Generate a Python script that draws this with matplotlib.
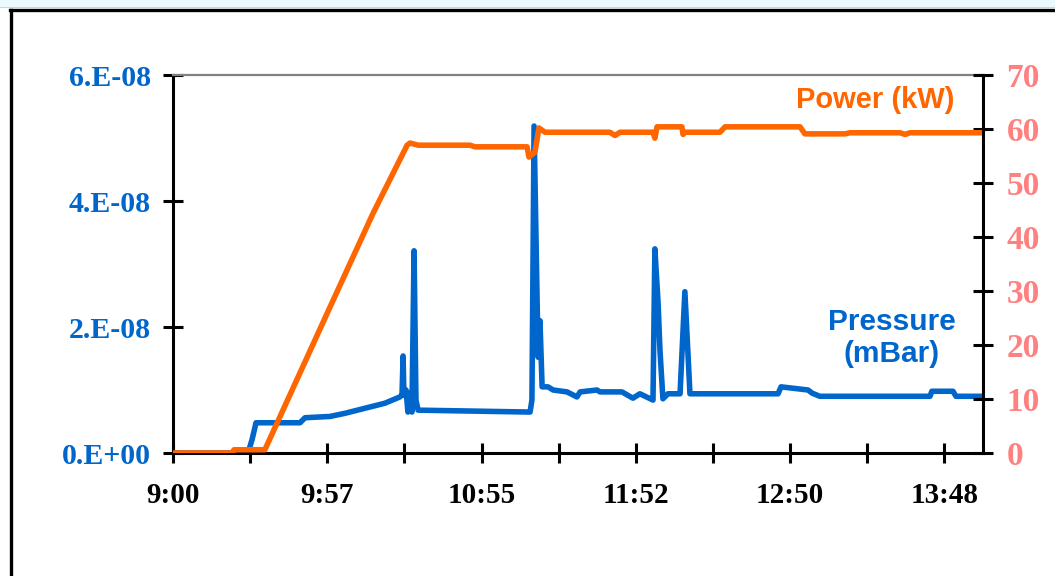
import matplotlib
matplotlib.use("Agg")
import matplotlib.pyplot as plt
from matplotlib.lines import Line2D
from matplotlib.patches import Rectangle

# minutes after 9:00
power_t = [0, 22.0, 22.8, 34.3, 58.6, 74.7, 87.4, 88.5, 91.5, 110.9, 112.7, 132.2, 132.9,
           135.1, 135.9, 136.6, 138.9, 163.1, 165.0, 166.9, 179.2, 179.9, 180.7, 190.0,
           190.4, 191.1, 204.2, 206.1, 234.1, 235.9, 250.9, 252.7, 271.4, 273.3, 275.1, 302.4]
power_kw = [0, 0, 0.6, 0.6, 27.0, 44.4, 57.0, 57.4, 57.0, 57.0, 56.7, 56.7, 54.8,
            55.7, 58.0, 60.2, 59.4, 59.4, 58.8, 59.4, 59.4, 58.3, 60.4, 60.4,
            59.0, 59.4, 59.4, 60.4, 60.4, 59.1, 59.1, 59.3, 59.3, 59.0, 59.3, 59.3]

press_t = [0, 28.0, 29.5, 31.0, 47.4, 49.3, 58.6, 64.2, 73.5, 79.1, 84.7, 85.5, 85.9, 86.2,
           87.0, 87.7, 88.5, 89.2, 90.0, 90.7, 91.5, 133.3, 134.0, 134.8, 136.3, 137.0,
           137.8, 140.0, 141.9, 147.1, 150.8, 152.0, 158.3, 159.4, 167.6, 171.7, 174.3,
           179.2, 179.9, 181.1, 181.8, 182.9, 184.8, 189.3, 191.1, 193.0, 225.9, 227.0,
           237.1, 238.6, 241.5, 282.6, 283.3, 291.2, 292.3, 302.4]
press_e8 = [0, 0, 0.21, 0.48, 0.48, 0.56, 0.58, 0.63, 0.73, 0.79, 0.89, 0.92, 1.54, 0.92,
            1.0, 0.65, 0.95, 0.65, 3.21, 0.84, 0.68, 0.65, 0.84, 5.19, 1.52, 2.10,
            1.05, 1.05, 1.0, 0.97, 0.89, 0.97, 1.0, 0.97, 0.97, 0.87, 0.94,
            0.84, 3.24, 2.38, 1.63, 0.86, 0.94, 0.94, 2.56, 0.94, 0.94, 1.05,
            1.0, 0.95, 0.90, 0.90, 0.98, 0.98, 0.90, 0.90]

x_ticks = [0, 57.6, 115.2, 172.8, 230.4, 288.0]
x_labels = ["9:00", "9:57", "10:55", "11:52", "12:50", "13:48"]
x_minor = [28.8, 86.4, 144.0, 201.6, 259.2]
left_ticks = [0, 2e-8, 4e-8, 6e-8]
left_labels = ["0.E+00", "2.E-08", "4.E-08", "6.E-08"]
right_ticks = [0, 10, 20, 30, 40, 50, 60, 70]

blue = "#0066CC"
orange = "#FF6600"
pink = "#FF8080"

fig = plt.figure(figsize=(10.55, 5.76), dpi=100)
W, H = 1055, 576

# frame round the chart
fig.add_artist(Rectangle((0, 1 - 7 / H), 1, 7 / H, transform=fig.transFigure,
                         facecolor="#EAFAFC", edgecolor="none"))
fig.add_artist(Line2D([0, 1], [1 - 7 / H] * 2, transform=fig.transFigure, color="#C8D8DA", lw=0.8))
fig.add_artist(Line2D([10 / W, 1], [1 - 10 / H] * 2, transform=fig.transFigure, color="black", lw=2.4))
fig.add_artist(Line2D([11 / W] * 2, [0, 1 - 10 / H], transform=fig.transFigure, color="black", lw=2.4))

ax = fig.add_axes([173 / W, 1 - 453 / H, 810 / W, 378 / H])
ax2 = ax.twinx()

ax.plot(press_t, [p * 1e-8 for p in press_e8], color=blue, lw=4,
        solid_joinstyle="round", solid_capstyle="round")
ax2.plot(power_t, power_kw, color=orange, lw=4, solid_joinstyle="round", solid_capstyle="round")

ax.set_xlim(0, 302.4)
ax.set_ylim(0, 6e-8)
ax2.set_ylim(0, 70)

serif = "Liberation Serif"
ax.set_xticks(x_ticks)
ax.set_xticklabels(x_labels, fontfamily=serif, fontweight="bold", fontsize=21)
ax.set_xticks(x_minor, minor=True)
ax.set_yticks(left_ticks)
ax.set_yticklabels(left_labels, fontfamily=serif, fontweight="bold", fontsize=21.5, color=blue)
ax2.set_yticks(right_ticks)
ax2.set_yticklabels([str(v) for v in right_ticks], fontfamily=serif, fontweight="bold",
                    fontsize=24, color=pink)

ax.tick_params(axis="x", which="both", direction="inout", length=14, width=2.2, pad=14)
ax.tick_params(axis="y", direction="inout", length=14, width=2.2, pad=9)
ax2.tick_params(axis="y", direction="inout", length=14, width=2.2, pad=10)

for s in ["left", "bottom"]:
    ax.spines[s].set_linewidth(2.2)
ax.spines["right"].set_visible(False)
ax.spines["top"].set_color("#808080")
ax.spines["top"].set_linewidth(1.6)
for s in ["left", "bottom", "top"]:
    ax2.spines[s].set_visible(False)
ax2.spines["right"].set_linewidth(2.2)

ax2.text(955 / W, 1 - 100 / H, "Power (kW)", transform=fig.transFigure, ha="right", va="center",
         fontfamily="Liberation Sans", fontweight="bold", fontsize=21, color=orange)
ax2.text(892 / W, 1 - 338 / H, "Pressure\n(mBar)", transform=fig.transFigure, ha="center",
         va="center", multialignment="center", linespacing=1.2,
         fontfamily="Liberation Sans", fontweight="bold", fontsize=21.5, color=blue)

fig.savefig("out.png", dpi=100)
